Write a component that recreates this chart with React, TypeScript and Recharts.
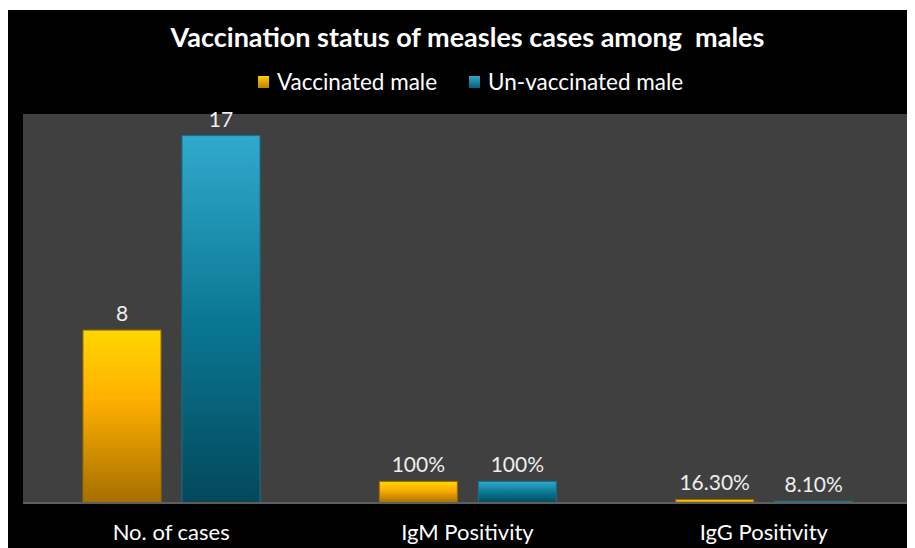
import React from "react";
import { BarChart, Bar, XAxis, YAxis, CartesianGrid, LabelList } from "recharts";

// categories along the x axis
const categories = ["No. of cases", "IgM Positivity", "IgG Positivity"];
// plotted values (percentages drawn as fractions, like the source sheet)
const vaccinated = [8, 1, 0.163];
const unvaccinated = [17, 1, 0.081];
// labels printed above bars
const vaccinatedLabels = ["8", "100%", "16.30%"];
const unvaccinatedLabels = ["17", "100%", "8.10%"];

const data = categories.map((c, i) => ({
  category: c,
  vaccinated: vaccinated[i],
  unvaccinated: unvaccinated[i],
  vLabel: vaccinatedLabels[i],
  uLabel: unvaccinatedLabels[i],
}));

const FONT = "Lato, 'Open Sans', sans-serif";

const App: React.FC = () => {
  return (
    <div
      style={{
        position: "relative",
        marginTop: 2,
        width: 907,
        height: 538,
        background: "#000",
        fontFamily: FONT,
      }}
    >
      <div
        style={{
          position: "absolute",
          top: 10,
          left: 6,
          width: 907,
          textAlign: "center",
          color: "#fff",
          fontWeight: 700,
          fontSize: 27,
        }}
      >
        Vaccination status of measles cases among&nbsp; males
      </div>
      <div
        style={{
          position: "absolute",
          top: 58,
          left: 9,
          width: 907,
          display: "flex",
          justifyContent: "center",
          gap: 32,
          color: "#fff",
          fontSize: 22.5,
        }}
      >
        <span style={{ display: "flex", alignItems: "center" }}>
          <span
            style={{
              width: 11,
              height: 12,
              background: "linear-gradient(#ffd000, #c08000)",
              marginRight: 8,
            }}
          />
          Vaccinated male
        </span>
        <span style={{ display: "flex", alignItems: "center" }}>
          <span
            style={{
              width: 11,
              height: 12,
              background: "linear-gradient(#30a8cc, #04607a)",
              marginRight: 8,
            }}
          />
          Un-vaccinated male
        </span>
      </div>
      <BarChart
        width={907}
        height={538}
        data={data}
        margin={{ top: 104, right: 3, left: 15, bottom: 0 }}
        barCategoryGap="20%"
        barGap={21}
        style={{ position: "absolute", top: 0, left: 0 }}
      >
        <defs>
          <linearGradient id="gold" x1="0" y1="0" x2="0" y2="1">
            <stop offset="0%" stopColor="#ffd600" />
            <stop offset="40%" stopColor="#ffb000" />
            <stop offset="100%" stopColor="#a56e00" />
          </linearGradient>
          <linearGradient id="teal" x1="0" y1="0" x2="0" y2="1">
            <stop offset="0%" stopColor="#31aacd" />
            <stop offset="50%" stopColor="#0a7894" />
            <stop offset="100%" stopColor="#03485b" />
          </linearGradient>
        </defs>
        <CartesianGrid fill="#404040" horizontal={false} vertical={false} />
        <XAxis
          dataKey="category"
          axisLine={{ stroke: "#5e5e5e", strokeWidth: 2 }}
          tickLine={false}
          tickMargin={15}
          height={45}
          tick={{ fill: "#ffffff", fontSize: 22, fontFamily: FONT }}
        />
        <YAxis hide domain={[0, 18]} />
        <Bar
          dataKey="vaccinated"
          fill="url(#gold)"
          stroke="#9a6c00"
          strokeWidth={1}
          barSize={78}
          isAnimationActive={false}
        >
          <LabelList dataKey="vLabel" position="top" offset={9} fill="#eeeeee" fontSize={21} fontFamily={FONT} />
        </Bar>
        <Bar
          dataKey="unvaccinated"
          fill="url(#teal)"
          stroke="#17708a"
          strokeWidth={1}
          barSize={78}
          isAnimationActive={false}
        >
          <LabelList dataKey="uLabel" position="top" offset={9} fill="#eeeeee" fontSize={21} fontFamily={FONT} />
        </Bar>
      </BarChart>
    </div>
  );
};

export default App;
